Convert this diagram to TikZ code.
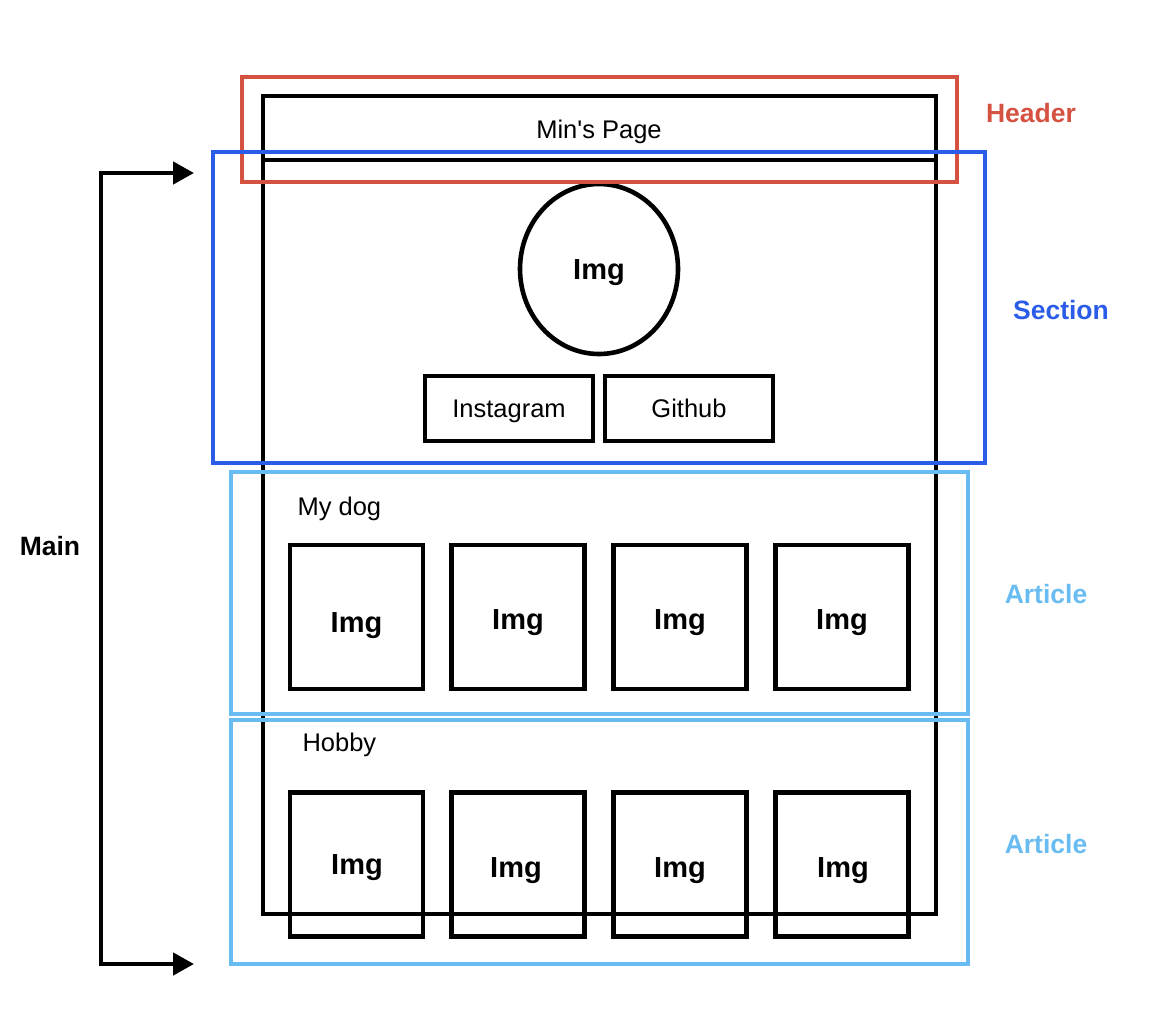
\documentclass[tikz,border=0pt]{standalone}
\usepackage{fontspec}
\setmainfont{Liberation Sans}[Ligatures=TeXOff]
\usetikzlibrary{arrows.meta,shapes.geometric}
\definecolor{hdr}{HTML}{D55140}
\definecolor{sec}{HTML}{2A5CE8}
\definecolor{art}{HTML}{68BCF2}
\begin{document}
\begin{tikzpicture}[x=1pt,y=-1pt,
  frame/.style n args={2}{draw, rectangle, inner sep=0pt, minimum width=#1, minimum height=#2},
  blk/.style={line width=4.6pt, black},
  col/.style={line width=4.2pt},
  reg/.style={text height=18.3pt, text depth=0pt, font=\fontsize{25.5}{30}\selectfont},
  bimg/.style={text height=20.8pt, text depth=0pt, font=\bfseries\fontsize{29}{34}\selectfont},
  blab/.style={text height=19pt, text depth=0pt, font=\bfseries\fontsize{26.5}{31}\selectfont},
  imgbox/.style={frame={133pt}{144pt}, blk, bimg},
  linkbox/.style={frame={168pt}{65pt}, blk, reg},
  arr/.style={line width=4.6pt, {Triangle[length=21pt,width=22pt]}-{Triangle[length=21pt,width=22pt]}}
]
\useasboundingbox (0,0) rectangle (1158,1014);

% page
\node[frame={673pt}{818pt}, blk] (page) at (599.5,505) {};
\draw[blk] (page.west |- 0,160) -- (page.east |- 0,160);
\node[reg] (title) at (599,129) {Min's Page};

% section contents
\node[draw, ellipse, inner sep=0pt, minimum width=158pt, minimum height=170pt, blk, bimg] (avatar) at (599,269) {Img};
\node[linkbox] (insta) at (509,408.5) {Instagram};
\node[linkbox] (git) at (689,408.5) {Github};

% article 1
\node[reg, anchor=west] (dog) at (294,506) {My dog};
\node[imgbox] (d1) at (356.5,617) {};
\node[imgbox] (d2) at (518,617) {};
\node[imgbox] (d3) at (680,617) {};
\node[imgbox] (d4) at (842,617) {};
\node[bimg] at (356.5,622) {Img};
\node[bimg] at (518,619) {Img};
\node[bimg] at (680,619) {Img};
\node[bimg] at (842,619) {Img};

% article 2
\node[reg, anchor=west] (hobby) at (299,742) {Hobby};
\node[imgbox] (h1) at (356.5,864.5) {};
\node[imgbox] (h2) at (518,864.5) {};
\node[imgbox] (h3) at (680,864.5) {};
\node[imgbox] (h4) at (842,864.5) {};
\node[bimg] at (357,864) {Img};
\node[bimg] at (516,867) {Img};
\node[bimg] at (680,867) {Img};
\node[bimg] at (843,867) {Img};

% colored region frames
\node[frame={715pt}{105pt}, col, draw=hdr] (header) at (599.5,129.5) {};
\node[frame={772pt}{311pt}, col, draw=sec] (section) at (599,307.5) {};
\node[frame={737pt}{242pt}, col, draw=art] (article1) at (599.5,593) {};
\node[frame={737pt}{244pt}, col, draw=art] (article2) at (599.5,842) {};

% labels
\node[blab, text=hdr] (lheader) at (1031,113) {Header};
\node[blab, text=sec] (lsection) at (1061,310) {Section};
\node[blab, text=art] (larticle1) at (1046,594) {Article};
\node[blab, text=art] (larticle2) at (1046,844) {Article};
\node[blab] (lmain) at (50,546) {Main};

% main bracket
\coordinate (mtop) at (194,173);
\coordinate (mbot) at (194,964);
\draw[arr] (mtop) -- (101,173) -- (101,964) -- (mbot);
\end{tikzpicture}
\end{document}
